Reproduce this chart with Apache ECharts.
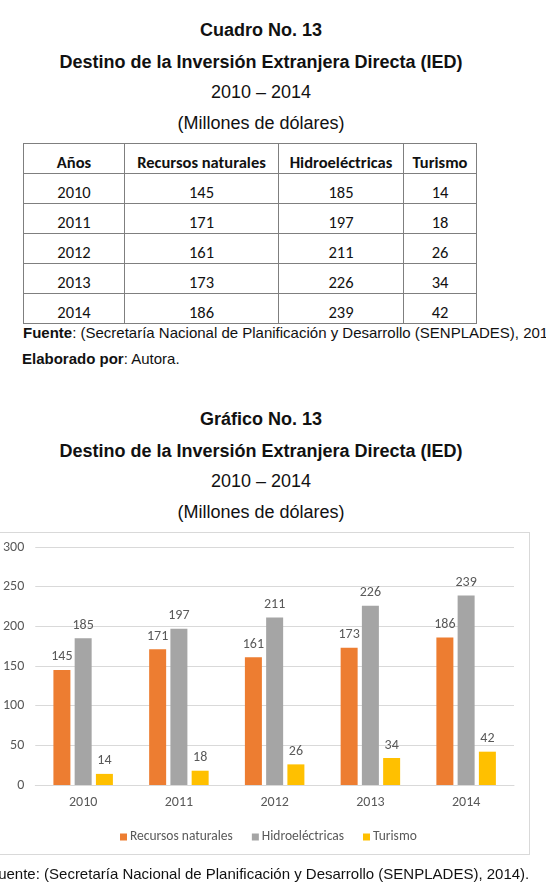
<!DOCTYPE html>
<html>
<head>
<meta charset="utf-8">
<script src="https://cdn.jsdelivr.net/npm/echarts@6/dist/echarts.min.js"></script>
<style>
  html, body { margin:0; padding:0; background:#fff; width:546px; height:884px; overflow:hidden; }
  #page { position:relative; width:546px; height:884px; overflow:hidden; }
  .t { position:absolute; left:0; width:522px; text-align:center; font-family:"Liberation Sans", Arial, sans-serif; font-size:18px; color:#111; white-space:nowrap; line-height:20px; }
  .b { font-weight:bold; }
  .note { position:absolute; font-family:"Liberation Sans", Arial, sans-serif; font-size:15px; color:#111; white-space:nowrap; line-height:18px; }
  table { position:absolute; left:23px; top:143px; border-collapse:collapse; font-family:Carlito, Calibri, Lato, sans-serif; font-size:16.5px; color:#111; }
  td { border:1px solid #7f7f7f; height:29px; padding:0; text-align:center; vertical-align:bottom; line-height:22px; }
  th { border:1px solid #7f7f7f; height:29px; padding:0; text-align:center; vertical-align:bottom; line-height:22px; font-weight:bold; }
  #box { position:absolute; left:-3px; top:532px; width:531px; height:321px; border:1px solid #d9d9d9; }
  #chart { position:absolute; left:0; top:0; width:546px; height:884px; }
</style>
</head>
<body>
<div id="page">
  <div class="t b" style="top:20px">Cuadro No. 13</div>
  <div class="t b" style="top:52px">Destino de la Inversión Extranjera Directa (IED)</div>
  <div class="t" style="top:82px">2010 – 2014</div>
  <div class="t" style="top:113px">(Millones de dólares)</div>
  <table id="tbl"></table>
  <div class="note" style="left:23px; top:324px"><b>Fuente</b>: (Secretaría Nacional de Planificación y Desarrollo (SENPLADES), 2014).</div>
  <div class="note" style="left:22px; top:350px"><b>Elaborado por</b>: Autora.</div>
  <div class="t b" style="top:409px">Gráfico No. 13</div>
  <div class="t b" style="top:441px">Destino de la Inversión Extranjera Directa (IED)</div>
  <div class="t" style="top:471px">2010 – 2014</div>
  <div class="t" style="top:502px">(Millones de dólares)</div>
  <div id="box"></div>
  <div id="chart"></div>
  <div class="note" style="left:-11px; top:865px">Fuente: (Secretaría Nacional de Planificación y Desarrollo (SENPLADES), 2014).</div>
</div>
<script>
const years = ['2010', '2011', '2012', '2013', '2014'];
const recursosNaturales = [145, 171, 161, 173, 186];
const hidroelectricas = [185, 197, 211, 226, 239];
const turismo = [14, 18, 26, 34, 42];
const seriesNames = ['Recursos naturales', 'Hidroeléctricas', 'Turismo'];
const tableHeaders = ['Años', 'Recursos naturales', 'Hidroeléctricas', 'Turismo'];
const colWidths = [101, 154, 125, 73];

// table
const tbl = document.getElementById('tbl');
let html = '<tr>' + tableHeaders.map((h, i) => '<th style="width:' + (colWidths[i] - 1) + 'px">' + h + '</th>').join('') + '</tr>';
years.forEach((y, i) => {
  html += '<tr><td>' + y + '</td><td>' + recursosNaturales[i] + '</td><td>' + hidroelectricas[i] + '</td><td>' + turismo[i] + '</td></tr>';
});
tbl.innerHTML = html;

const font = 'Carlito, Calibri, Lato, sans-serif';
const chart = echarts.init(document.getElementById('chart'), null, { renderer: 'canvas' });
const labelCfg = { show: true, position: 'top', distance: 6, color: '#595959', fontSize: 14, fontFamily: font };
const colors = ['#ED7D31', '#A5A5A5', '#FFC000'];
const seriesData = [recursosNaturales, hidroelectricas, turismo];
chart.setOption({
  animation: false,
  color: colors,
  grid: { left: 34, right: 32, top: 547, bottom: 99, containLabel: false },
  legend: {
    left: 115, top: 825, itemWidth: 7, itemHeight: 7, itemGap: 19, icon: 'rect',
    textStyle: { color: '#595959', fontSize: 13.5, fontFamily: font, padding: [0, 0, 0, -2] },
    data: seriesNames
  },
  xAxis: {
    type: 'category', data: years,
    axisLine: { lineStyle: { color: '#d9d9d9' } },
    axisTick: { show: false },
    axisLabel: { color: '#595959', fontSize: 14, fontFamily: font, margin: 10 }
  },
  yAxis: {
    type: 'value', min: 0, max: 300, interval: 50,
    axisLine: { show: false }, axisTick: { show: false },
    splitLine: { lineStyle: { color: '#d9d9d9' } },
    axisLabel: { color: '#595959', fontSize: 14, fontFamily: font, margin: 11 }
  },
  series: seriesNames.map((n, i) => ({
    name: n, type: 'bar', data: seriesData[i], barWidth: 17, barGap: '25%',
    label: labelCfg
  }))
});
</script>
</body>
</html>
